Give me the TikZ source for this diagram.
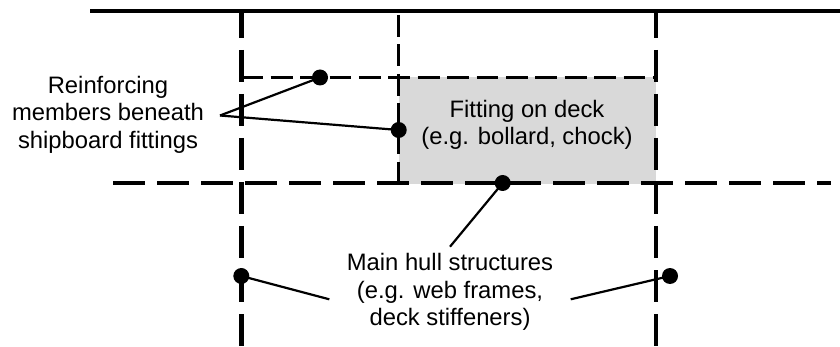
\documentclass[tikz,border=0pt]{standalone}
\usepackage{fontspec}
\setmainfont{Liberation Sans}
\definecolor{fitgray}{HTML}{D9D9D9}
\tikzset{
  main/.style={line width=4.4pt,dash pattern=on 32pt off 12pt},
  mainv/.style={main,dash phase=5pt},
  minor/.style={line width=3.3pt,dash pattern=on 21.9pt off 7.5pt},
  solidline/.style={line width=4.2pt},
  leader/.style={line width=2.2pt},
  dot/.style={circle,fill=black,inner sep=0pt,minimum size=16pt},
  lab/.style={align=center,inner sep=0pt,font=\fontsize{23.8}{27.5}\selectfont}
}
\begin{document}
\begin{tikzpicture}[x=1pt,y=-1pt]
\useasboundingbox (0,0) rectangle (840,347);
\fill[fitgray] (398.7,77.5) rectangle (656,184.5);
\draw[solidline] (90,11) -- (840,11);
\draw[mainv] (241.3,11) -- (241.3,347);
\draw[mainv] (655.7,11) -- (655.7,347);
\draw[main] (113,183) -- (831,183);
\draw[minor] (241.3,77.5) -- (656,77.5);
\draw[minor] (398.7,15) -- (398.7,183);
\node[lab] (reinf) at (108,114.5) {Reinforcing\\members beneath\\shipboard fittings};
\node[lab] (fit) at (527,125) {Fitting on deck\\(e.g. bollard, chock)};
\node[lab] (hull) at (450,292) {Main hull structures\\(e.g. web frames,\\deck stiffeners)};
\node[dot] (d1) at (320,77.5) {};
\node[dot] (d2) at (398.7,130) {};
\node[dot] (d3) at (502.7,183) {};
\node[dot] (d4) at (241.3,276) {};
\node[dot] (d5) at (670,276) {};
\coordinate (r) at (220,115.5);
\coordinate (h3) at (450,246.7);
\coordinate (h4) at (329.3,299.3);
\coordinate (h5) at (570.7,299.3);
\draw[leader] (r) -- (d1.center);
\draw[leader] (r) -- (d2.center);
\draw[leader] (h3) -- (d3.center);
\draw[leader] (h4) -- (d4.center);
\draw[leader] (h5) -- (d5.center);
\end{tikzpicture}
\end{document}
